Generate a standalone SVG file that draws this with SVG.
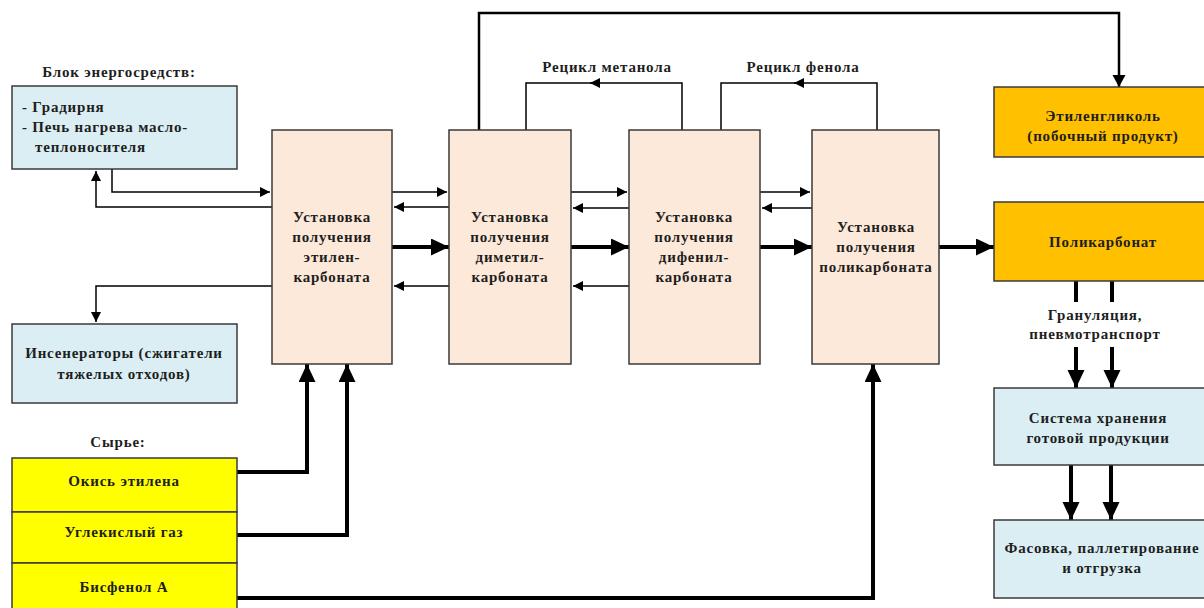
<svg xmlns="http://www.w3.org/2000/svg" width="1204" height="608" viewBox="0 0 1204 608">
<defs>
<style>
.t{font-family:"Liberation Serif","Times New Roman",serif;font-weight:bold;font-size:15px;fill:#1e1e1e;text-anchor:middle;letter-spacing:0.8px}
.tl{text-anchor:start}
.box{stroke:#3a3a3a;stroke-width:1.5}
.blue{fill:#daeef3}
.unit{fill:#fde9d9}
.yel{fill:#ffff00}
.org{fill:#ffc000}
.thin{fill:none;stroke:#000;stroke-width:1.5}
.thick{fill:none;stroke:#000;stroke-width:4}
.med{fill:none;stroke:#000;stroke-width:2.5}
</style>
<marker id="a" markerUnits="userSpaceOnUse" markerWidth="12" markerHeight="10" refX="10" refY="5" orient="auto"><path d="M0,0 L10,5 L0,10 Z" fill="#000"/></marker>
<marker id="am" markerUnits="userSpaceOnUse" markerWidth="14" markerHeight="14" refX="12" refY="6.5" orient="auto"><path d="M0,0 L12,6.5 L0,13 Z" fill="#000"/></marker>
<marker id="ab" markerUnits="userSpaceOnUse" markerWidth="20" markerHeight="18" refX="18" refY="8.5" orient="auto"><path d="M0,0 L18,8.5 L0,17 Z" fill="#000"/></marker>
</defs>
<rect width="1204" height="608" fill="#fff"/>

<g id="connectors">
<!-- energy -->
<path class="thin" d="M112,169 V192 H270" marker-end="url(#a)"/>
<path class="thin" d="M272,207 H96 V171" marker-end="url(#a)"/>
<path class="thin" d="M272,286 H96 V322" marker-end="url(#a)"/>
<!-- between units thin -->
<path class="thin" d="M392,192 H447" marker-end="url(#a)"/>
<path class="thin" d="M449,207 H394" marker-end="url(#a)"/>
<path class="thin" d="M449,286 H394" marker-end="url(#a)"/>
<path class="thin" d="M571,192 H627" marker-end="url(#a)"/>
<path class="thin" d="M629,208 H573" marker-end="url(#a)"/>
<path class="thin" d="M629,286 H573" marker-end="url(#a)"/>
<path class="thin" d="M760,192 H810" marker-end="url(#a)"/>
<path class="thin" d="M812,208 H762" marker-end="url(#a)"/>
<!-- thick main flow -->
<path class="thick" d="M392,247 H449" marker-end="url(#ab)"/>
<path class="thick" d="M571,247 H629" marker-end="url(#ab)"/>
<path class="thick" d="M760,247 H812" marker-end="url(#ab)"/>
<path class="thick" d="M939,247 H994" marker-end="url(#ab)"/>
<!-- recycle -->
<path class="thin" d="M682,130 V83 H590" marker-end="url(#a)"/>
<path class="thin" d="M592,83 H526 V130"/>
<path class="thin" d="M877,130 V83 H794" marker-end="url(#a)"/>
<path class="thin" d="M796,83 H721 V130"/>
<!-- top ethylene glycol line -->
<path class="med" d="M479,130 V13 H1119 V87" marker-end="url(#am)"/>
<!-- raw materials -->
<path class="thick" d="M237,472 H307 V364" marker-end="url(#ab)"/>
<path class="thick" d="M237,535 H347 V364" marker-end="url(#ab)"/>
<path class="thick" d="M237,598 H873 V364" marker-end="url(#ab)"/>
<!-- product handling -->
<path class="thick" d="M1076,281 V302"/>
<path class="thick" d="M1112,281 V302"/>
<path class="thick" d="M1076,347 V388" marker-end="url(#ab)"/>
<path class="thick" d="M1112,347 V388" marker-end="url(#ab)"/>
<path class="thick" d="M1071,465 V520" marker-end="url(#ab)"/>
<path class="thick" d="M1111,465 V520" marker-end="url(#ab)"/>
</g>

<g id="labels">
<text class="t" x="119" y="77">Блок энергосредств:</text>
<text class="t" x="118" y="447">Сырье:</text>
<text class="t" x="607" y="72">Рецикл метанола</text>
<text class="t" x="803" y="72">Рецикл фенола</text>
<text class="t" x="1095" y="320">Грануляция,</text>
<text class="t" x="1095" y="339">пневмотранспорт</text>
</g>

<g id="energy">
<rect class="box blue" x="12" y="86" width="225" height="83"/>
<text class="t tl" x="22" y="112">- Градирня</text>
<text class="t tl" x="22" y="132">- Печь нагрева масло-</text>
<text class="t tl" x="35" y="152">теплоносителя</text>
</g>

<g id="incinerators">
<rect class="box blue" x="12" y="324" width="225" height="79"/>
<text class="t" x="124" y="358">Инсенераторы (сжигатели</text>
<text class="t" x="124" y="379">тяжелых отходов)</text>
</g>

<g id="raw">
<rect class="box yel" x="12" y="458" width="225" height="54"/>
<text class="t" x="124" y="486">Окись этилена</text>
<rect class="box yel" x="12" y="512" width="225" height="51"/>
<text class="t" x="124" y="537">Углекислый газ</text>
<rect class="box yel" x="12" y="563" width="225" height="50"/>
<text class="t" x="124" y="592">Бисфенол А</text>
</g>

<g id="unit1">
<rect class="box unit" x="272" y="130" width="120" height="234"/>
<text class="t" x="332" y="222">Установка</text>
<text class="t" x="332" y="242">получения</text>
<text class="t" x="332" y="262">этилен-</text>
<text class="t" x="332" y="282">карбоната</text>
</g>

<g id="unit2">
<rect class="box unit" x="449" y="130" width="122" height="234"/>
<text class="t" x="510" y="222">Установка</text>
<text class="t" x="510" y="242">получения</text>
<text class="t" x="510" y="262">диметил-</text>
<text class="t" x="510" y="282">карбоната</text>
</g>

<g id="unit3">
<rect class="box unit" x="629" y="130" width="131" height="234"/>
<text class="t" x="694" y="222">Установка</text>
<text class="t" x="694" y="242">получения</text>
<text class="t" x="694" y="262">дифенил-</text>
<text class="t" x="694" y="282">карбоната</text>
</g>

<g id="unit4">
<rect class="box unit" x="812" y="130" width="127" height="234"/>
<text class="t" x="876" y="232">Установка</text>
<text class="t" x="876" y="252">получения</text>
<text class="t" x="876" y="272">поликарбоната</text>
</g>

<g id="glycol">
<rect class="box org" x="994" y="87" width="218" height="70"/>
<text class="t" x="1103" y="121">Этиленгликоль</text>
<text class="t" x="1103" y="141">(побочный продукт)</text>
</g>

<g id="polycarbonate">
<rect class="box org" x="994" y="202" width="218" height="79"/>
<text class="t" x="1103" y="247">Поликарбонат</text>
</g>

<g id="storage">
<rect class="box blue" x="994" y="388" width="218" height="77"/>
<text class="t" x="1098" y="423">Система хранения</text>
<text class="t" x="1098" y="443">готовой продукции</text>
</g>

<g id="packing">
<rect class="box blue" x="994" y="520" width="218" height="78"/>
<text class="t" x="1102" y="553">Фасовка, паллетирование</text>
<text class="t" x="1102" y="573">и отгрузка</text>
</g>
</svg>
